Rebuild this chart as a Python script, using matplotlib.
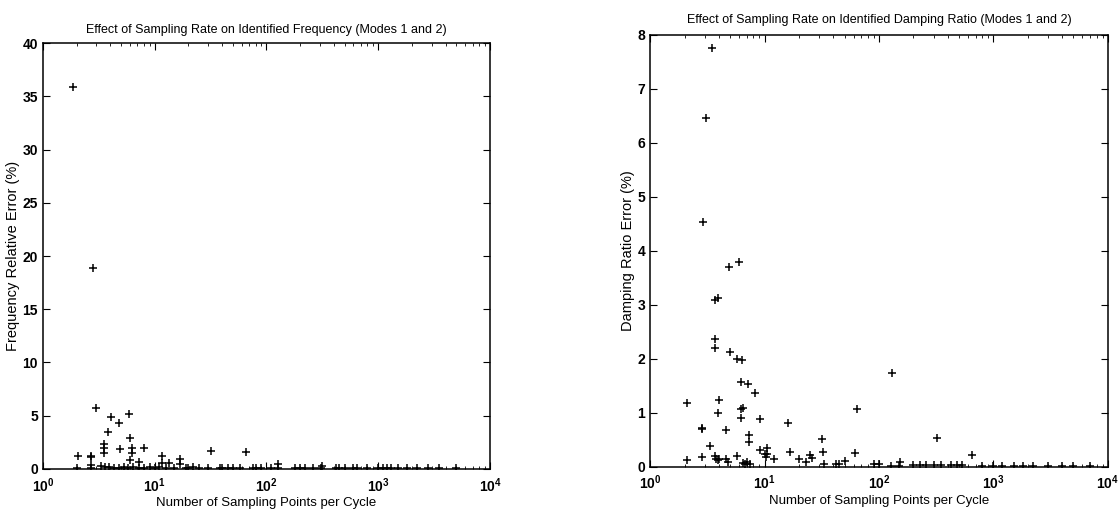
import numpy as np
import matplotlib
matplotlib.use("Agg")
import matplotlib.pyplot as plt

plt.rcParams['font.family'] = ['Liberation Sans', 'DejaVu Sans']

# frequency relative error (%) vs sampling points per cycle
freq_x = [1.85, 2.8, 2.97, 4.05, 4.8, 5.9, 3.8, 6.0, 3.5, 3.5, 3.5, 4.9, 6.2, 6.2, 6.0,
          8.0, 2.05, 2.7, 2.7, 2.7, 7.2, 11.5, 11.5, 13.4, 16.7, 16.7, 32, 65, 128, 315]
freq_y = [35.9, 18.9, 5.7, 4.9, 4.3, 5.2, 3.5, 2.9, 2.3, 2.0, 1.5, 1.9, 2.0, 1.5, 0.85,
          2.0, 1.2, 1.2, 1.1, 0.4, 0.65, 1.2, 0.55, 0.55, 0.9, 0.45, 1.7, 1.6, 0.45, 0.3]
# points lying close to zero
freq_x0 = [2.0, 2.7, 3.3, 3.6, 3.9, 4.3, 4.8, 5.3, 5.8, 6.4, 7.2, 8.0, 9.0, 10, 11, 12.5,
           15, 19, 20, 22, 25, 30, 38, 40, 45, 50, 58, 75, 80, 90, 110, 128, 180, 200,
           220, 260, 310, 420, 450, 500, 600, 640, 800, 1000, 1100, 1200, 1300, 1500,
           1800, 2200, 2800, 3500, 5000]
freq_y0 = [0.05, 0.1, 0.25, 0.15, 0.2, 0.1, 0.05, 0.15, 0.1, 0.2, 0.05, 0.1, 0.15, 0.1,
           0.2, 0.05, 0.1, 0.05, 0.1, 0.15, 0.05, 0.1, 0.05, 0.1, 0.05, 0.1, 0.05, 0.05,
           0.1, 0.05, 0.1, 0.05, 0.05, 0.05, 0.05, 0.05, 0.1, 0.05, 0.05, 0.05, 0.05,
           0.05, 0.05, 0.05, 0.05, 0.05, 0.05, 0.05, 0.05, 0.05, 0.05, 0.05, 0.05]

# damping ratio error (%)
damp_x = [3.46, 3.1, 2.89, 4.9, 6.0, 3.72, 3.9, 2.12, 2.85, 2.85, 3.34, 3.72, 3.72, 3.93,
          4.0, 4.6, 5.0, 5.7, 6.3, 6.2, 7.2, 6.2, 6.5, 6.2, 8.2, 7.3, 7.3, 9.1, 9.1, 16,
          16.7, 31.8, 32.5, 64, 62, 129, 324, 645, 152]
damp_y = [7.75, 6.46, 4.54, 3.71, 3.8, 3.09, 3.13, 1.18, 0.72, 0.70, 0.38, 2.37, 2.2, 1.0,
          1.24, 0.68, 2.13, 2.0, 1.98, 1.57, 1.53, 1.07, 1.1, 0.9, 1.37, 0.6, 0.47, 0.89,
          0.31, 0.81, 0.28, 0.52, 0.28, 1.07, 0.26, 1.73, 0.53, 0.22, 0.1]
damp_x0 = [2.1, 2.85, 3.7, 3.8, 3.9, 4.0, 4.6, 4.8, 5.8, 6.5, 6.8, 7.0, 7.5, 10, 10.2,
           10.5, 10.5, 12, 20, 23, 25, 26, 33, 42, 45, 50, 90, 100, 128, 150, 200, 230,
           260, 300, 350, 430, 480, 530, 800, 1000, 1200, 1500, 1800, 2200, 3000, 4000,
           5000, 7000]
damp_y0 = [0.12, 0.18, 0.2, 0.15, 0.12, 0.15, 0.15, 0.1, 0.2, 0.08, 0.05, 0.1, 0.05, 0.24,
           0.18, 0.35, 0.24, 0.15, 0.14, 0.1, 0.23, 0.16, 0.05, 0.05, 0.06, 0.11, 0.05,
           0.05, 0.02, 0.02, 0.03, 0.03, 0.03, 0.03, 0.03, 0.03, 0.03, 0.03, 0.01, 0.01,
           0.01, 0.01, 0.01, 0.01, 0.01, 0.01, 0.01, 0.01]

fig = plt.figure(figsize=(11.19, 5.12), dpi=100)
ax1 = fig.add_axes([0.0384, 0.084, 0.3995, 0.832])
ax2 = fig.add_axes([0.581, 0.088, 0.409, 0.844])

panels = [
    (ax1, freq_x + freq_x0, freq_y + freq_y0, 40, 5,
     'Effect of Sampling Rate on Identified Frequency (Modes 1 and 2)',
     'Frequency Relative Error (%)', 7),
    (ax2, damp_x + damp_x0, damp_y + damp_y0, 8, 1,
     'Effect of Sampling Rate on Identified Damping Ratio (Modes 1 and 2)',
     'Damping Ratio Error (%)', 8.5),
]

for ax, xs, ys, ymax, step, title, ylab, tpad in panels:
    ax.plot(xs, ys, '+', color='black', markersize=6, markeredgewidth=1.1)
    ax.set_xscale('log')
    ax.set_xlim(1, 1e4)
    ax.set_ylim(0, ymax)
    ax.set_yticks(np.arange(0, ymax + step / 2, step))
    ax.tick_params(which='both', direction='in', top=True, right=True, labelsize=10)
    ax.tick_params(axis='x', which='major', pad=5)
    ax.tick_params(which='major', length=5)
    ax.tick_params(which='minor', length=2.5)
    for lbl in ax.get_xticklabels() + ax.get_yticklabels():
        lbl.set_fontweight('semibold')
    for s in ax.spines.values():
        s.set_linewidth(1.1)
    ax.set_title(title, fontsize=9, pad=tpad)
    ax.set_xlabel('Number of Sampling Points per Cycle', fontsize=9.5, labelpad=1.5)
    ax.set_ylabel(ylab, fontsize=10.5, labelpad=2)

fig.savefig('out.png', dpi=100)
